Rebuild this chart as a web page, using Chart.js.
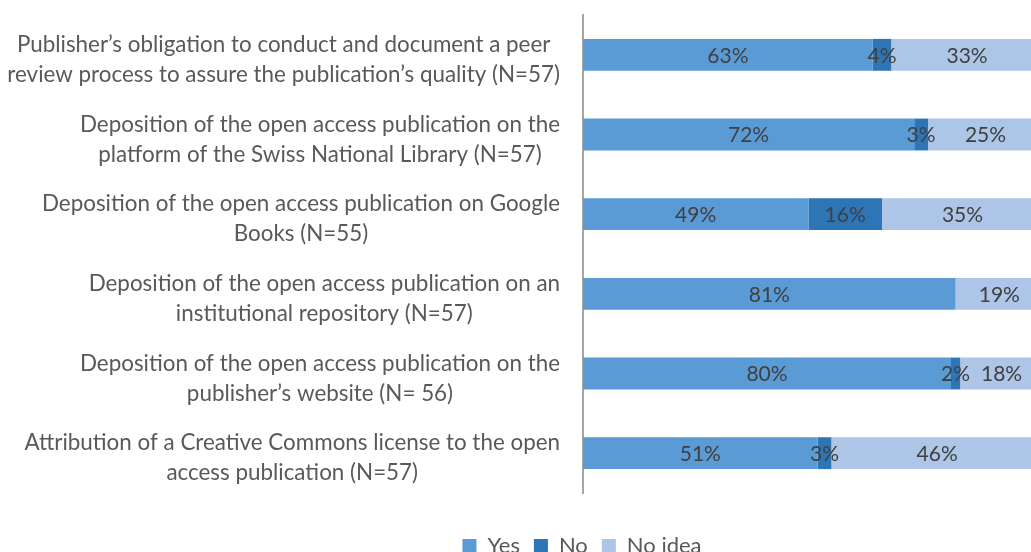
<!DOCTYPE html>
<html>
<head>
<meta charset="utf-8">
<script src="https://cdn.jsdelivr.net/npm/chart.js@4"></script>
<style>
  html, body { margin: 0; padding: 0; background: #ffffff; overflow: hidden; width: 1031px; height: 552px; }
  #wrap { position: absolute; left: 0; top: 0; width: 1164px; height: 567px; }
</style>
</head>
<body>
<div id="wrap"><canvas id="c"></canvas></div>
<script>
// ---- data ----
const categories = [
  ["Publisher’s obligation to conduct and document a peer", "review process to assure the publication’s quality (N=57)"],
  ["Deposition of the open access publication on the", "platform of the Swiss National Library (N=57)"],
  ["Deposition of the open access publication on Google", "Books (N=55)"],
  ["Deposition of the open access publication on an", "institutional repository (N=57)"],
  ["Deposition of the open access publication on the", "publisher’s website (N= 56)"],
  ["Attribution of a Creative Commons license to the open", "access publication (N=57)"]
];
const seriesNames = ["Yes", "No", "No idea"];
const yesValues    = [63, 72, 49, 81, 80, 51];
const noValues     = [4, 3, 16, 0, 2, 3];
const noIdeaValues = [33, 25, 35, 19, 18, 46];

const FONT = 'Lato, "Open Sans", sans-serif';

const catLabelPlugin = {
  id: 'catLabels',
  afterDraw(chart) {
    const ctx = chart.ctx, ys = chart.scales.y;
    ctx.save();
    ctx.font = '22.4px ' + FONT;
    ctx.fillStyle = '#595959';
    ctx.textAlign = 'center';
    ctx.textBaseline = 'middle';
    const right = ys.right - 23;
    const lh = 30;
    categories.forEach((lines, i) => {
      const cy = ys.getPixelForValue(i) + 5;
      const w = Math.max(...lines.map(l => ctx.measureText(l).width));
      const cx = right - w / 2;
      lines.forEach((l, j) => ctx.fillText(l, cx, cy + (j - (lines.length - 1) / 2) * lh));
    });
    ctx.restore();
  }
};

const valueLabelPlugin = {
  id: 'valueLabels',
  afterDatasetsDraw(chart) {
    const ctx = chart.ctx;
    ctx.save();
    ctx.font = '21px ' + FONT;
    ctx.fillStyle = '#404040';
    ctx.textAlign = 'center';
    ctx.textBaseline = 'middle';
    chart.data.datasets.forEach((ds, di) => {
      const meta = chart.getDatasetMeta(di);
      meta.data.forEach((el, i) => {
        const v = ds.data[i];
        if (!v) return;
        ctx.fillText(v + '%', (el.x + el.base) / 2, el.y + 1);
      });
    });
    ctx.restore();
  }
};

new Chart(document.getElementById('c'), {
  type: 'bar',
  data: {
    labels: categories,
    datasets: [
      { label: seriesNames[0], data: yesValues,    backgroundColor: '#5B9BD5' },
      { label: seriesNames[1], data: noValues,     backgroundColor: '#2E75B6' },
      { label: seriesNames[2], data: noIdeaValues, backgroundColor: '#ADC5E6' }
    ]
  },
  options: {
    indexAxis: 'y',
    responsive: true,
    maintainAspectRatio: false,
    animation: false,
    layout: { padding: { top: 15, right: 0, left: 0, bottom: 0 } },
    datasets: { bar: { categoryPercentage: 1, barPercentage: 0.4, borderWidth: 0 } },
    scales: {
      x: {
        stacked: true, min: 0, max: 100,
        display: true,
        grid: { display: false, drawTicks: false },
        border: { display: false },
        ticks: { display: false },
        afterFit(s) { s.height = 28; }
      },
      y: {
        stacked: true,
        grid: { display: false, drawTicks: false },
        border: { display: true, color: '#A6A6A6', width: 2 },
        ticks: { display: false },
        afterFit(s) { s.width = 583; }
      },
      yRight: {
        type: 'category',
        position: 'right',
        display: true,
        grid: { display: false, drawTicks: false },
        border: { display: false },
        ticks: { display: false },
        afterFit(s) { s.width = 121; }
      }
    },
    plugins: {
      legend: {
        position: 'bottom',
        labels: {
          font: { family: FONT, size: 22 },
          color: '#595959',
          boxWidth: 14, boxHeight: 14,
          padding: 14
        }
      },
      tooltip: { enabled: false }
    }
  },
  plugins: [catLabelPlugin, valueLabelPlugin]
});
</script>
</body>
</html>
